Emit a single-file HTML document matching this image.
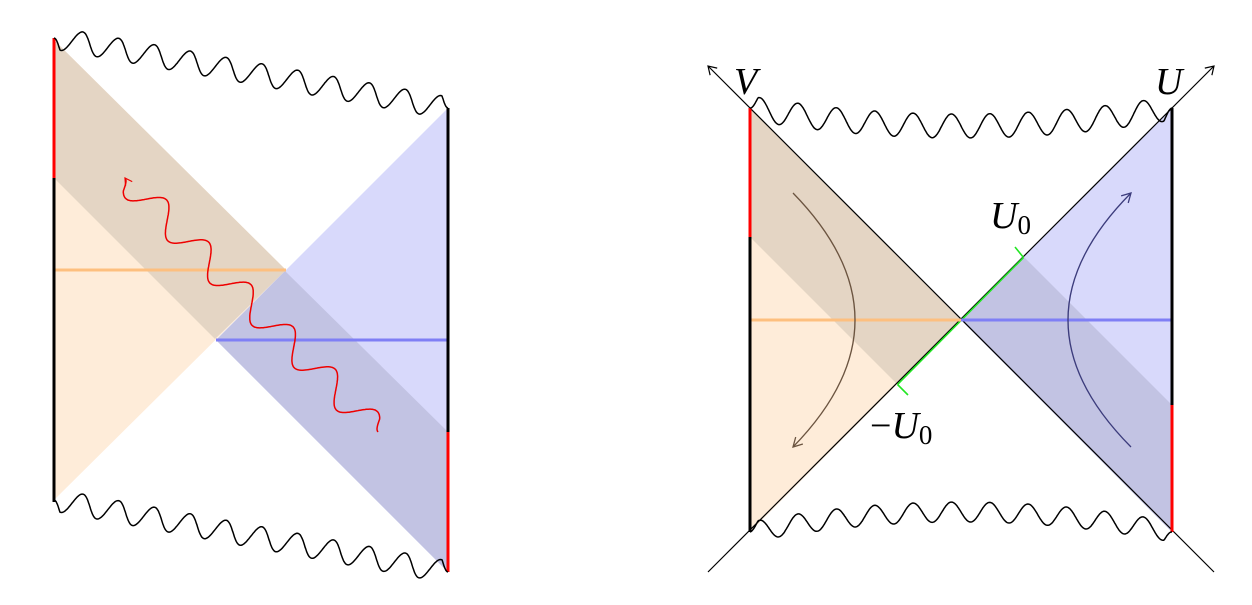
<!DOCTYPE html>
<html><head><meta charset="utf-8"><style>
html,body{margin:0;padding:0;background:#fff;width:1252px;height:605px;overflow:hidden}
text{font-family:"Liberation Serif",serif;font-style:italic}
</style></head><body>
<svg id="s" width="1252" height="605" viewBox="0 0 1252 605" xmlns="http://www.w3.org/2000/svg">
<defs>
<marker id="ab" markerWidth="12" markerHeight="12" refX="9" refY="6" orient="auto-start-reverse" markerUnits="userSpaceOnUse"><path d="M1,1 L9,6 L1,11" fill="none" stroke="#000" stroke-width="1.2"/></marker>
<marker id="ar" markerWidth="10" markerHeight="10" refX="8" refY="5" orient="auto" markerUnits="userSpaceOnUse"><path d="M1,1 L8,5 L1,9" fill="none" stroke="#e00" stroke-width="1.2"/></marker>
<marker id="abr" markerWidth="12" markerHeight="12" refX="10" refY="6" orient="auto" markerUnits="userSpaceOnUse"><path d="M1,1 L10,6 L1,11" fill="none" stroke="#6b5440" stroke-width="1.3"/></marker>
<marker id="abl" markerWidth="12" markerHeight="12" refX="10" refY="6" orient="auto" markerUnits="userSpaceOnUse"><path d="M1,1 L10,6 L1,11" fill="none" stroke="#3c3c7c" stroke-width="1.3"/></marker>
</defs>
<!-- LEFT DIAGRAM -->
<polygon points="54,40 286,270 54,500" fill="#feecd9"/>
<polygon points="448,108 448,572 216,340" fill="#d8d9fb"/>
<polygon points="54,40 286,270 215,339 54,178" fill="#e4d5c4"/>
<polygon points="285,271 448,432 448,572 216,340" fill="#c2c3e3"/>
<line x1="54" y1="270" x2="286" y2="270" stroke="#fdbf7f" stroke-width="3"/>
<line x1="216" y1="340" x2="448" y2="340" stroke="#7f7ff5" stroke-width="3"/>
<line x1="54" y1="38" x2="54" y2="178" stroke="#f00" stroke-width="3"/>
<line x1="54" y1="178" x2="54" y2="502" stroke="#000" stroke-width="3"/>
<line x1="448" y1="108" x2="448" y2="432" stroke="#000" stroke-width="3"/>
<line x1="448" y1="432" x2="448" y2="572" stroke="#f00" stroke-width="3"/>
<path id="w1" fill="none" stroke="#000" stroke-width="1.5"/>
<path id="w2" fill="none" stroke="#000" stroke-width="1.5"/>
<path id="w3" fill="none" stroke="#e00" stroke-width="1.5" marker-end="url(#ar)"/>
<!-- RIGHT DIAGRAM -->
<polygon points="750,108 961,320 750,532" fill="#feecd9"/>
<polygon points="1172,108 1172,532 961,320" fill="#d8d9fb"/>
<polygon points="750,108 961,320 897.5,384.5 750,237" fill="#e4d5c4"/>
<polygon points="1023.5,256.5 1172,405 1172,532 961,320" fill="#c2c3e3"/>
<line x1="708" y1="66" x2="1214" y2="572" stroke="#000" stroke-width="1.2" marker-start="url(#ab)"/>
<line x1="1214" y1="66" x2="708" y2="572" stroke="#000" stroke-width="1.2" marker-start="url(#ab)"/>
<line x1="897.5" y1="384.5" x2="1023.5" y2="257.5" stroke="#22e622" stroke-width="1.6"/>
<line x1="1023.5" y1="257.5" x2="1015" y2="247" stroke="#22e622" stroke-width="1.6"/>
<line x1="897.5" y1="384.5" x2="908" y2="395" stroke="#22e622" stroke-width="1.6"/>
<line x1="750" y1="320" x2="961" y2="320" stroke="#fdbf7f" stroke-width="3"/>
<line x1="961" y1="320" x2="1172" y2="320" stroke="#7f7ff5" stroke-width="3"/>
<line x1="750" y1="108" x2="750" y2="237" stroke="#f00" stroke-width="3"/>
<line x1="750" y1="237" x2="750" y2="532" stroke="#000" stroke-width="3"/>
<line x1="1172" y1="108" x2="1172" y2="405" stroke="#000" stroke-width="3"/>
<line x1="1172" y1="405" x2="1172" y2="532" stroke="#f00" stroke-width="3"/>
<path d="M793,193 Q917,320 793,447" fill="none" stroke="#6b5440" stroke-width="1.3" marker-end="url(#abr)"/>
<path d="M1131,447 Q1005,320 1131,193" fill="none" stroke="#3c3c7c" stroke-width="1.3" marker-end="url(#abl)"/>
<path id="w4" fill="none" stroke="#000" stroke-width="1.5"/>
<path id="w5" fill="none" stroke="#000" stroke-width="1.5"/>
<text x="734" y="94" font-size="38">V</text>
<text x="1155" y="94" font-size="38">U</text>
<text x="990" y="228" font-size="38">U<tspan font-style="normal" font-size="27" dy="6">0</tspan></text>
<text x="870" y="438" font-size="38"><tspan font-style="normal">−</tspan>U<tspan font-style="normal" font-size="27" dy="6">0</tspan></text>
</svg>
<script>
function wave(id,x1,y1,x2,y2,P,A,sag,sign){
  var dx=x2-x1,dy=y2-y1,L=Math.hypot(dx,dy),ux=dx/L,uy=dy/L,nx=-uy,ny=ux;
  var n=Math.max(1,Math.round(L/P)),p=L/n,d="";
  for(var i=0;i<=500;i++){var t=i/500,s=t*L;
    var env=Math.min(1,s/8,(L-s)/8);
    var o=sign*A*Math.sin(2*Math.PI*s/p)*env+sag*4*t*(1-t);
    var x=x1+ux*s+nx*o,y=y1+uy*s+ny*o;
    d+=(i?"L":"M")+x.toFixed(1)+","+y.toFixed(1);}
  document.getElementById(id).setAttribute("d",d);
}
wave("w1",54,38,448,108,38,11,0,1);
wave("w2",54,500,448,572,38,11,0,1);
wave("w3",378,432,125,178,56,14,0,1);
wave("w4",750,108,1172,108,37,12,18,-1);
wave("w5",750,532,1172,532,37,10,-20,-1);
</script>
</body></html>
